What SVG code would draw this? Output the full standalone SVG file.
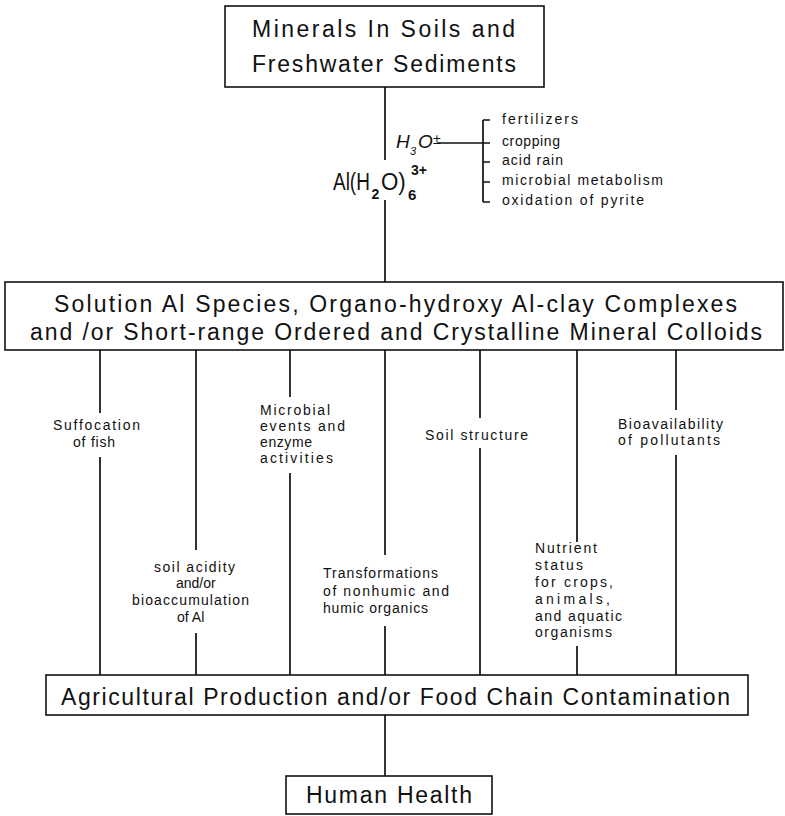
<svg xmlns="http://www.w3.org/2000/svg" width="785" height="816" viewBox="0 0 785 816">
<style>
.box{fill:#fff;stroke:#111;stroke-width:1.6}
.ln{stroke:#111;stroke-width:1.7;fill:none}
.big{font-family:"Liberation Sans",Arial,sans-serif;font-size:23px;fill:#111}
.sm{font-family:"Liberation Sans",Arial,sans-serif;font-size:14px;fill:#111}
.it{font-family:"Liberation Sans",Arial,sans-serif;font-style:italic;fill:#111}
</style>
<rect width="785" height="816" fill="#fff"/>
<g id="connectors">
<path class="ln" d="M385 87V160M385 200V282"/>
<path class="ln" d="M437 143H483M483 120V202M483 120H490M483 143H490M483 162H490M483 182H490M483 202H490"/>
<path class="ln" d="M100 350V413M100 457V675"/>
<path class="ln" d="M196 350V550M196 633V675"/>
<path class="ln" d="M290 350V397M290 473V675"/>
<path class="ln" d="M385 350V555M385 626V675"/>
<path class="ln" d="M480 350V418M480 448V675"/>
<path class="ln" d="M577 350V542M577 646V675"/>
<path class="ln" d="M676 350V410M676 455V675"/>
<path class="ln" d="M385 715V776"/>
</g>
<g id="minerals">
<rect class="box" x="225" y="6" width="319" height="81"/>
<text class="big" x="252" y="37" textLength="263">Minerals In Soils and</text>
<text class="big" x="252" y="72" textLength="264">Freshwater Sediments</text>
</g>
<g id="al-ion">
<text class="big" transform="translate(333 190) scale(0.79 1)" style="font-size:24px">Al(H</text>
<text class="big" x="371.5" y="199" style="font-size:14px;font-weight:bold">2</text>
<text class="big" transform="translate(381 190) scale(0.93 1)" style="font-size:24px">O)</text>
<text class="big" x="408" y="200" style="font-size:15px;font-weight:bold">6</text>
<text class="big" x="411" y="175" style="font-size:14px;font-weight:bold">3+</text>
</g>
<g id="h3o">
<text class="it" style="font-size:19px"><tspan x="396" y="148">H</tspan><tspan x="410" y="155" style="font-size:11px">3</tspan><tspan x="418" y="148">O</tspan><tspan x="433" y="144" style="font-size:14px">±</tspan></text>
</g>
<g id="sources">
<text class="sm" x="502" y="124" textLength="76">fertilizers</text>
<text class="sm" x="502" y="146" textLength="58">cropping</text>
<text class="sm" x="502" y="165" textLength="61">acid rain</text>
<text class="sm" x="502" y="185" textLength="161">microbial metabolism</text>
<text class="sm" x="502" y="205" textLength="142">oxidation of pyrite</text>
</g>
<g id="solution">
<rect class="box" x="5" y="282" width="778" height="68"/>
<text class="big" x="54" y="312" textLength="683">Solution Al Species, Organo-hydroxy Al-clay Complexes</text>
<text class="big" x="30" y="340" textLength="732">and /or Short-range Ordered and Crystalline Mineral Colloids</text>
</g>
<g id="suffocation">
<text class="sm" x="53" y="430" textLength="87">Suffocation</text>
<text class="sm" x="73" y="447" textLength="42">of fish</text>
</g>
<g id="acidity">
<text class="sm" x="154" y="572" textLength="81">soil acidity</text>
<text class="sm" x="176" y="588">and/or</text>
<text class="sm" x="132" y="605" textLength="117">bioaccumulation</text>
<text class="sm" x="177" y="622">of Al</text>
</g>
<g id="microbial">
<text class="sm" x="260" y="415" textLength="70">Microbial</text>
<text class="sm" x="260" y="431" textLength="85">events and</text>
<text class="sm" x="260" y="447" textLength="52">enzyme</text>
<text class="sm" x="260" y="463" textLength="73">activities</text>
</g>
<g id="transformations">
<text class="sm" x="323" y="578" textLength="115">Transformations</text>
<text class="sm" x="323" y="596" textLength="126">of nonhumic and</text>
<text class="sm" x="323" y="613" textLength="105">humic organics</text>
</g>
<g id="soil-structure">
<text class="sm" x="425" y="440" textLength="103">Soil structure</text>
</g>
<g id="nutrient">
<text class="sm" x="535" y="553" textLength="62">Nutrient</text>
<text class="sm" x="535" y="570" textLength="48">status</text>
<text class="sm" x="535" y="587" textLength="78">for crops,</text>
<text class="sm" x="535" y="604" textLength="75">animals,</text>
<text class="sm" x="535" y="621" textLength="87">and aquatic</text>
<text class="sm" x="535" y="637" textLength="77">organisms</text>
</g>
<g id="bioavailability">
<text class="sm" x="618" y="429" textLength="105">Bioavailability</text>
<text class="sm" x="618" y="445" textLength="102">of pollutants</text>
</g>
<g id="agricultural">
<rect class="box" x="46" y="675" width="702" height="40"/>
<text class="big" x="61" y="705" textLength="669">Agricultural Production and/or Food Chain Contamination</text>
</g>
<g id="human-health">
<rect class="box" x="286" y="776" width="206" height="38"/>
<text class="big" x="306" y="803" textLength="166">Human Health</text>
</g>
</svg>
